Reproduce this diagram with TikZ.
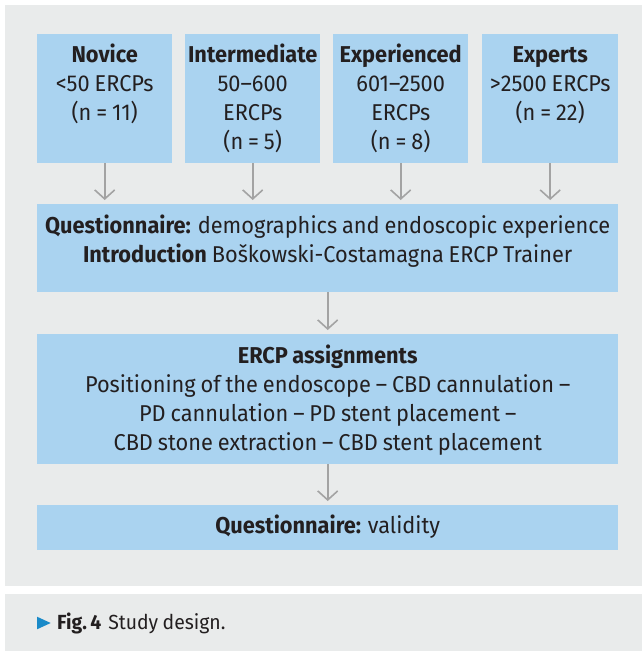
\documentclass[tikz,border=0pt]{standalone}
\usepackage{fontspec}
\setmainfont{Fira Sans}[FakeStretch=0.95, WordSpace=0.85]
\usetikzlibrary{arrows.meta}
\definecolor{panelgray}{HTML}{E9EBEB}
\definecolor{boxblue}{HTML}{AAD3F0}
\definecolor{arrowgray}{HTML}{A3A3A3}
\definecolor{textdark}{HTML}{231F20}
\definecolor{capblue}{HTML}{1A8AC8}
\tikzset{
  boxbg/.style={fill=boxblue, draw=none, inner sep=0pt, anchor=north west},
  boxtext/.style={inner sep=0pt, anchor=base, align=center, text=textdark,
    font=\fontsize{23}{29.3}\selectfont},
  flowarrow/.style={draw=arrowgray, line width=1.6bp,
    -{Straight Barb[length=9bp,width=20bp,line width=1.6bp]}, shorten >=4bp},
}
\begin{document}
\begin{tikzpicture}[x=1bp,y=-1bp]
\useasboundingbox (0,0) rectangle (642,651);
\fill[white] (0,0) rectangle (642,651);
\fill[panelgray] (5,5) rectangle (642,586);
\fill[panelgray] (5,594) rectangle (642,651);

% boxes
\node[boxbg, minimum width=135bp, minimum height=129bp] (nov) at (37,34) {};
\node[boxbg, minimum width=135bp, minimum height=129bp] (int) at (185,34) {};
\node[boxbg, minimum width=135bp, minimum height=129bp] (exp) at (333,34) {};
\node[boxbg, minimum width=136bp, minimum height=129bp] (ext) at (482,34) {};
\node[boxbg, minimum width=581bp, minimum height=88bp] (q1) at (37,204) {};
\node[boxbg, minimum width=581bp, minimum height=130bp] (ercp) at (37,334) {};
\node[boxbg, minimum width=581bp, minimum height=45bp] (q2) at (37,505) {};

% texts (anchor base = baseline of the last line)
\node[boxtext] (novt) at ([yshift=-86.6bp]nov.north)
  {\textbf{Novice}\\<50 ERCPs\\(n = 11)};
\node[boxtext] (intt) at ([yshift=-115.9bp]int.north)
  {\textbf{Intermediate}\\50--600\\ERCPs\\(n = 5)};
\node[boxtext] (expt) at ([yshift=-115.9bp]exp.north)
  {\textbf{Experienced}\\601--2500\\ERCPs\\(n = 8)};
\node[boxtext] (extt) at ([yshift=-86.6bp]ext.north)
  {\textbf{Experts}\\>2500 ERCPs\\(n = 22)};
\node[boxtext] (q1t) at ([yshift=-58.3bp]q1.north)
  {\textbf{Questionnaire:} demographics and endoscopic experience\\\textbf{Introduction} Boškowski-Costamagna ERCP Trainer};
\node[boxtext] (ercpt) at ([yshift=-116.9bp]ercp.north)
  {\textbf{ERCP assignments}\\Positioning of the endoscope -- CBD cannulation --\\PD cannulation -- PD stent placement --\\CBD stone extraction -- CBD stent placement};
\node[boxtext] (q2t) at ([yshift=-28bp]q2.north)
  {\textbf{Questionnaire:} validity};

% arrows
\foreach \n in {nov,int,exp,ext}
  \draw[flowarrow] (\n.south) -- (\n.south |- q1.north);
\draw[flowarrow] (q1.south) -- (ercp.north);
\draw[flowarrow] (ercp.south) -- (q2.north);

% caption
\fill[capblue] (37,616.7) -- (50.7,623) -- (37,629.3) -- cycle;
\node[anchor=base west, inner sep=0pt, text=textdark, font=\fontsize{20.5}{24}\selectfont] (cap) at (57,629.3)
  {\textbf{Fig.\,4}\hspace{7bp}Study design.};
\end{tikzpicture}
\end{document}
